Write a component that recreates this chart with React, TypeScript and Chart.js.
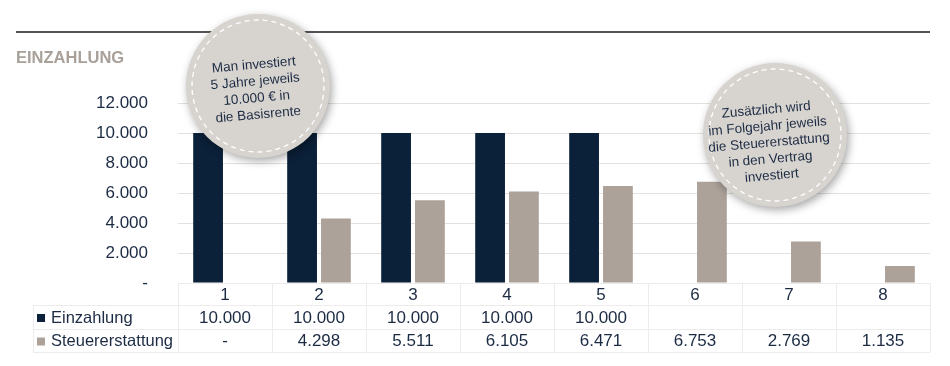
import React, { useEffect, useRef } from "react";
import { Chart, registerables } from "chart.js";

Chart.register(...registerables);

const categories = ["1", "2", "3", "4", "5", "6", "7", "8"];
const einzahlung: (number | null)[] = [10000, 10000, 10000, 10000, 10000, null, null, null];
const steuererstattung: (number | null)[] = [0, 4298, 5511, 6105, 6471, 6753, 2769, 1135];
const seriesNames = ["Einzahlung", "Steuererstattung"];
const seriesColors = ["#0b2039", "#aca29a"];
const yMax = 12000;
const yStep = 2000;
const titleText = "EINZAHLUNG";
const bubble1Lines = ["Man investiert", "5 Jahre jeweils", "10.000 € in", "die Basisrente"];
const bubble2Lines = ["Zusätzlich wird", "im Folgejahr jeweils", "die Steuererstattung", "in den Vertrag", "investiert"];

const FONT = "'Liberation Sans', Arial, sans-serif";
const TEXT = "#1c2b44";

function fmt(v: number | null | undefined): string {
  if (v === null || v === undefined) return "";
  if (v === 0) return "-";
  return String(Math.round(v)).replace(/\B(?=(\d{3})+(?!\d))/g, ".");
}

function drawBubble(
  ctx: CanvasRenderingContext2D,
  cx: number,
  cy: number,
  r: number,
  lines: string[],
  tx: number,
  ty: number,
  lh: number
) {
  ctx.save();
  ctx.shadowColor = "rgba(0,0,0,0.35)";
  ctx.shadowBlur = 8;
  ctx.shadowOffsetX = 2;
  ctx.shadowOffsetY = 3;
  ctx.beginPath();
  ctx.arc(cx, cy, r, 0, Math.PI * 2);
  ctx.fillStyle = "#d7d3ce";
  ctx.fill();
  ctx.restore();

  ctx.save();
  ctx.setLineDash([5, 4]);
  ctx.strokeStyle = "#ffffff";
  ctx.lineWidth = 1.3;
  ctx.beginPath();
  ctx.arc(cx, cy, r - 6, 0, Math.PI * 2);
  ctx.stroke();
  ctx.restore();

  ctx.save();
  ctx.translate(tx, ty);
  ctx.rotate((-5 * Math.PI) / 180);
  ctx.font = `13.5px ${FONT}`;
  ctx.fillStyle = TEXT;
  ctx.textAlign = "center";
  ctx.textBaseline = "middle";
  lines.forEach((l, i) => {
    ctx.fillText(l, 0, (i - (lines.length - 1) / 2) * lh);
  });
  ctx.restore();
}

const decorPlugin = {
  id: "decor",
  afterDraw(chart: any) {
    const ctx: CanvasRenderingContext2D = chart.ctx;
    const area = chart.chartArea;
    const x = chart.scales.x;
    const n = categories.length;
    const colW = (area.right - area.left) / n;

    // top rule
    ctx.save();
    ctx.strokeStyle = "#1a1a1a";
    ctx.lineWidth = 1.5;
    ctx.beginPath();
    ctx.moveTo(16, 32);
    ctx.lineTo(930, 32);
    ctx.stroke();
    ctx.restore();

    // title
    ctx.save();
    ctx.font = `bold 16.5px ${FONT}`;
    ctx.fillStyle = "#a8a099";
    ctx.textAlign = "left";
    ctx.textBaseline = "alphabetic";
    ctx.fillText(titleText, 16, 63);
    ctx.restore();

    // data table
    const t0 = area.bottom;
    const r1 = t0 + 22;
    const r2 = r1 + 24;
    const r3 = r2 + 23;
    const legendLeft = 33;
    ctx.save();
    ctx.strokeStyle = "#ececec";
    ctx.lineWidth = 1;
    ctx.beginPath();
    ctx.moveTo(area.left, t0 + 0.5);
    ctx.lineTo(area.right, t0 + 0.5);
    [r1, r2, r3].forEach((yy) => {
      ctx.moveTo(legendLeft, yy + 0.5);
      ctx.lineTo(area.right, yy + 0.5);
    });
    for (let i = 0; i <= n; i++) {
      const xx = Math.round(area.left + i * colW) + 0.5;
      ctx.moveTo(xx, t0);
      ctx.lineTo(xx, r3);
    }
    ctx.moveTo(legendLeft + 0.5, r1);
    ctx.lineTo(legendLeft + 0.5, r3);
    ctx.stroke();

    ctx.font = `17px ${FONT}`;
    ctx.fillStyle = TEXT;
    ctx.textAlign = "center";
    ctx.textBaseline = "middle";
    categories.forEach((c, i) => {
      const cx = x.getPixelForValue(i);
      ctx.fillText(c, cx, (t0 + r1) / 2 + 1);
      ctx.fillText(fmt(einzahlung[i]), cx, (r1 + r2) / 2 + 1);
      ctx.fillText(fmt(steuererstattung[i]), cx, (r2 + r3) / 2 + 1);
    });

    const rowsY = [(r1 + r2) / 2 + 1, (r2 + r3) / 2 + 1];
    seriesNames.forEach((name, i) => {
      ctx.fillStyle = seriesColors[i];
      ctx.fillRect(37, rowsY[i] - 4, 8, 8);
      ctx.fillStyle = TEXT;
      ctx.textAlign = "left";
      ctx.font = `16.5px ${FONT}`;
      ctx.fillText(name, 51, rowsY[i]);
    });
    ctx.restore();

    // bubbles
    drawBubble(ctx, 258, 86, 72, bubble1Lines, 256, 90, 16.7);
    drawBubble(ctx, 775, 135, 72, bubble2Lines, 769, 143, 16.5);
  },
};

export default function App() {
  const ref = useRef<HTMLCanvasElement>(null);

  useEffect(() => {
    const chart = new Chart(ref.current as HTMLCanvasElement, {
      type: "bar",
      data: {
        labels: categories,
        datasets: [
          {
            label: seriesNames[0],
            data: einzahlung,
            backgroundColor: seriesColors[0],
            borderWidth: 0,
            categoryPercentage: 0.72,
            barPercentage: 0.88,
          },
          {
            label: seriesNames[1],
            data: steuererstattung,
            backgroundColor: seriesColors[1],
            borderWidth: 0,
            categoryPercentage: 0.72,
            barPercentage: 0.88,
          },
        ],
      },
      options: {
        responsive: false,
        devicePixelRatio: 1,
        animation: false,
        events: [],
        layout: { padding: { top: 103, bottom: 83, left: 0, right: 20 } },
        plugins: {
          legend: { display: false },
          tooltip: { enabled: false },
          title: { display: false },
        },
        scales: {
          x: { display: false, offset: true },
          y: {
            min: 0,
            max: yMax,
            border: { display: false },
            grid: { color: "#e4e1dc", drawTicks: false, lineWidth: 1 },
            ticks: {
              stepSize: yStep,
              padding: 30,
              color: TEXT,
              font: { family: FONT, size: 17 },
              callback: (v: any) => fmt(Number(v)),
            },
            afterFit: (scale: any) => {
              scale.width = 178;
            },
          },
        },
      },
      plugins: [decorPlugin],
    } as any);
    return () => chart.destroy();
  }, []);

  return (
    <div style={{ position: "absolute", left: 0, top: 0, width: 950, height: 366, background: "#fff" }}>
      <canvas ref={ref} width={950} height={366} style={{ display: "block", width: 950, height: 366 }} />
    </div>
  );
}
